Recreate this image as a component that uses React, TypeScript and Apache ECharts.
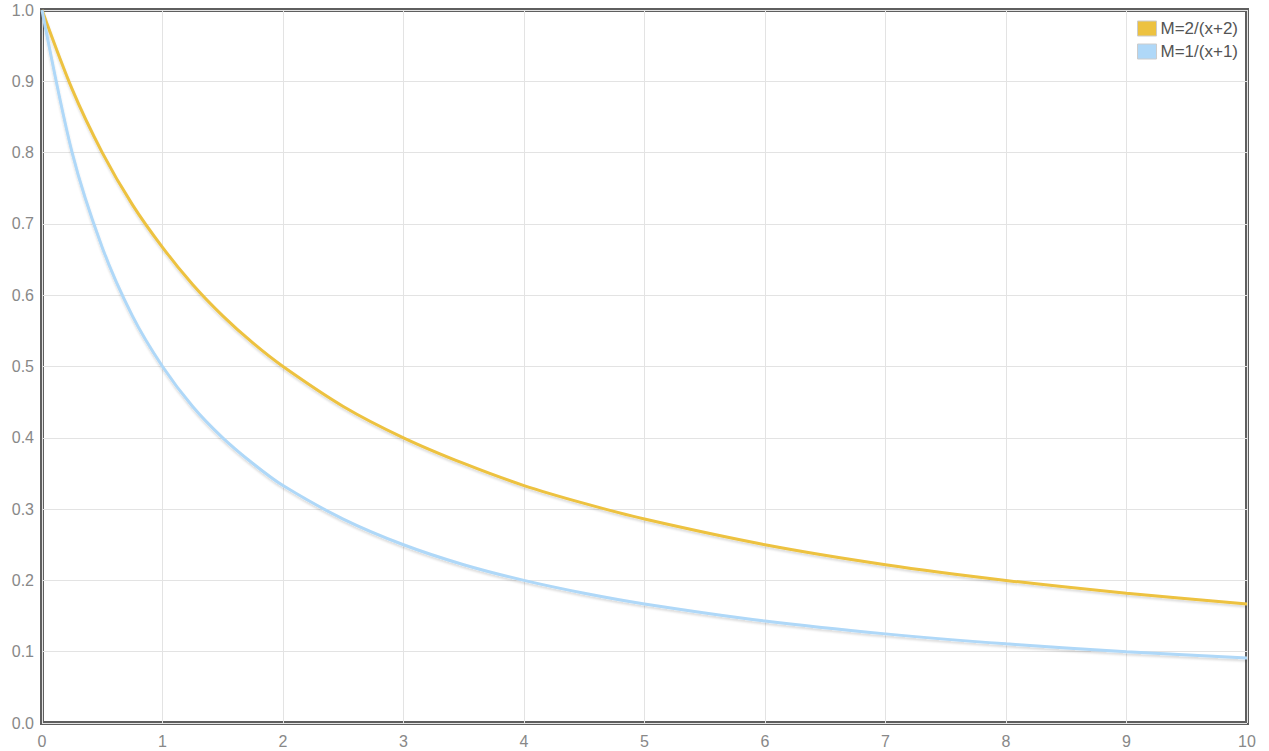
import React, { useEffect, useRef } from "react";
import * as echarts from "echarts";

const xValues = [0, 0.25, 0.5, 0.75, 1, 1.25, 1.5, 1.75, 2, 2.5, 3, 3.5, 4, 4.5, 5, 6, 7, 8, 9, 10];
const seriesA = [1.0, 0.889, 0.8, 0.727, 0.667, 0.615, 0.571, 0.533, 0.5, 0.444, 0.4, 0.364, 0.333, 0.308, 0.286, 0.25, 0.222, 0.2, 0.182, 0.167];
const seriesB = [1.0, 0.8, 0.667, 0.571, 0.5, 0.444, 0.4, 0.364, 0.333, 0.286, 0.25, 0.222, 0.2, 0.182, 0.167, 0.143, 0.125, 0.111, 0.1, 0.091];
const nameA = "M=2/(x+2)";
const nameB = "M=1/(x+1)";

export default function App() {
  const ref = useRef<HTMLDivElement>(null);
  useEffect(() => {
    const chart = echarts.init(ref.current!, null, { renderer: "svg" });
    const shadow = { shadowColor: "rgba(0,0,0,0.15)", shadowBlur: 2, shadowOffsetY: 2 };
    const font = "Liberation Sans, Arial, sans-serif";
    chart.setOption({
      animation: false,
      grid: {
        left: 42, right: 22, top: 10, bottom: 28,
        show: true, borderColor: "#5f5f5f", borderWidth: 4, backgroundColor: "transparent",
      },
      legend: {
        orient: "vertical",
        right: 31, top: 20,
        icon: "rect", itemWidth: 19, itemHeight: 15, itemGap: 6,
        padding: 0,
        itemStyle: { borderColor: "#ccc", borderWidth: 1 },
        textStyle: { color: "#545454", fontSize: 17, fontFamily: font, padding: [0, 0, 0, -1] },
        data: [nameA, nameB],
      },
      xAxis: {
        type: "value", min: 0, max: 10, interval: 1,
        axisLine: { show: false }, axisTick: { show: false },
        axisLabel: { color: "#888", fontSize: 16, margin: 10, fontFamily: font },
        splitLine: { show: true, lineStyle: { color: "#e3e3e3", width: 1 } },
      },
      yAxis: {
        type: "value", min: 0, max: 1, interval: 0.1,
        axisLine: { show: false }, axisTick: { show: false },
        axisLabel: { color: "#888", fontSize: 16, margin: 8, fontFamily: font, formatter: (v: number) => v.toFixed(1) },
        splitLine: { show: true, lineStyle: { color: "#e3e3e3", width: 1 } },
      },
      series: [
        {
          name: nameA, type: "line", smooth: 0.3, showSymbol: false,
          data: xValues.map((x, i) => [x, seriesA[i]]),
          itemStyle: { color: "#edc240" },
          lineStyle: { color: "#edc240", width: 3, ...shadow },
        },
        {
          name: nameB, type: "line", smooth: 0.3, showSymbol: false,
          data: xValues.map((x, i) => [x, seriesB[i]]),
          itemStyle: { color: "#afd8f8" },
          lineStyle: { color: "#afd8f8", width: 3, ...shadow },
        },
      ],
    });
    return () => chart.dispose();
  }, []);
  return <div ref={ref} style={{ width: 1269, height: 751, position: "absolute", left: 0, top: 0 }} />;
}
